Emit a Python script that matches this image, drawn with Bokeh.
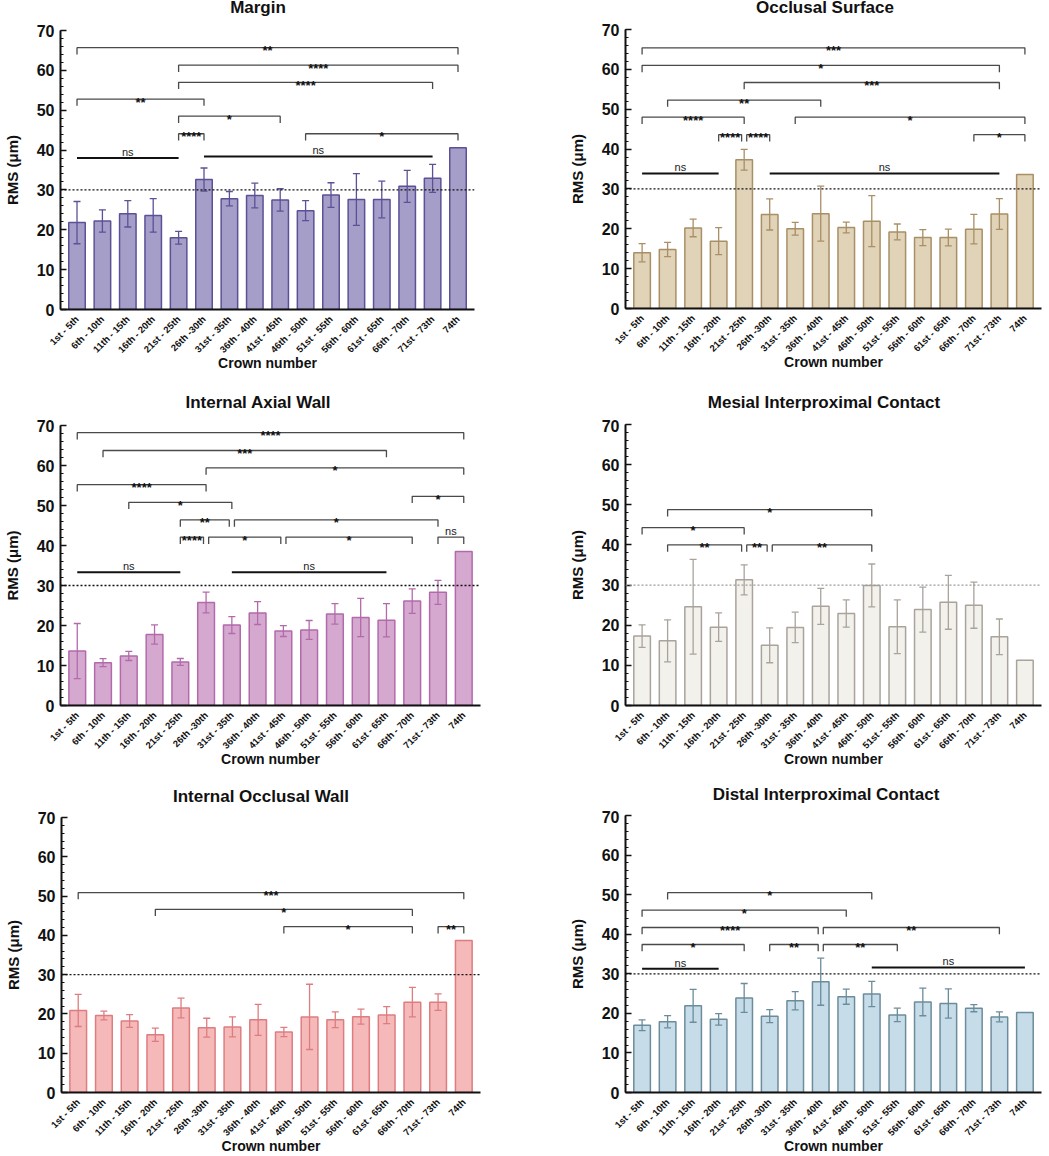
import math
from bokeh.plotting import figure
from bokeh.layouts import column, row
from bokeh.models import ColumnDataSource, Whisker, TeeHead, Span, FixedTicker, Range1d, Div
from bokeh.core.properties import value
from bokeh.embed import file_html
from bokeh.resources import INLINE

# ---------------- data ----------------
crowns = ["1st - 5th", "6th - 10th", "11th - 15th", "16th - 20th", "21st - 25th",
          "26th -30th", "31st - 35th", "36th - 40th", "41st - 45th", "46th - 50th",
          "51st - 55th", "56th - 60th", "61st - 65th", "66th - 70th", "71st - 73th", "74th"]

margin_mean = [21.8, 22.2, 24.0, 23.6, 18.0, 32.6, 27.8, 28.6, 27.5, 24.8, 28.7, 27.6, 27.6, 30.9, 32.9, 40.6]
margin_sd = [5.3, 2.8, 3.3, 4.2, 1.6, 2.9, 1.8, 3.1, 2.8, 2.5, 3.1, 6.5, 4.6, 4.0, 3.5, 0]
margin_brackets = [(0, 15, 65.7, "**"), (4, 15, 61.3, "****"), (4, 14, 57.0, "****"),
                   (0, 5, 52.8, "**"), (4, 8, 48.5, "*"), (4, 5, 44.1, "****"), (9, 15, 44.1, "*")]
margin_ns = [(0, 4, 38.0), (5, 14, 38.4)]

occlusal_mean = [14.0, 14.8, 20.2, 16.9, 37.3, 23.6, 20.0, 23.8, 20.3, 21.9, 19.2, 17.8, 17.8, 19.9, 23.7, 33.6]
occlusal_sd = [2.3, 1.8, 2.2, 3.4, 2.6, 3.9, 1.6, 6.9, 1.35, 6.4, 2.0, 2.0, 2.1, 3.7, 3.85, 0]
occlusal_brackets = [(0, 15, 65.4, "***"), (0, 14, 61.0, "*"), (4, 14, 56.7, "***"), (1, 7, 52.3, "**"),
                     (0, 4, 48.0, "****"), (6, 15, 48.0, "*"), (3, 4, 43.6, "****"), (4, 5, 43.6, "****"),
                     (13, 15, 43.6, "*")]
occlusal_ns = [(0, 3, 33.9), (5, 14, 33.9)]

axial_mean = [13.6, 10.7, 12.4, 17.75, 10.9, 25.75, 20.1, 23.1, 18.6, 18.9, 22.9, 22.0, 21.3, 26.1, 28.3, 38.5]
axial_sd = [6.9, 1.0, 1.15, 2.4, 0.85, 2.6, 2.1, 2.85, 1.35, 2.35, 2.55, 4.8, 4.15, 3.05, 3.0, 0]
axial_brackets = [(0, 15, 68.2, "****"), (1, 12, 63.75, "***"), (5, 15, 59.4, "*"), (0, 5, 55.2, "****"),
                  (13, 15, 52.3, "*"), (2, 6, 50.8, "*"), (4, 6, 46.4, "**"), (6, 14, 46.4, "*"),
                  (4, 5, 42.1, "****"), (5, 8, 42.1, "*"), (8, 13, 42.1, "*"), (14, 15, 42.1, "ns")]
axial_ns = [(0, 4, 33.3), (6, 12, 33.3)]

mesial_mean = [17.3, 16.1, 24.6, 19.5, 31.3, 15.0, 19.45, 24.7, 22.9, 29.9, 19.6, 23.9, 25.7, 25.0, 17.1, 11.3]
mesial_sd = [2.8, 5.25, 11.8, 3.55, 3.75, 4.35, 3.8, 4.5, 3.4, 5.35, 6.7, 5.6, 6.7, 5.75, 4.45, 0]
mesial_brackets = [(1, 9, 48.8, "*"), (0, 4, 44.3, "*"), (1, 4, 40.0, "**"), (4, 5, 40.0, "**"),
                   (5, 9, 40.0, "**")]
mesial_ns = []

occwall_mean = [20.9, 19.6, 18.2, 14.7, 21.5, 16.5, 16.7, 18.5, 15.4, 19.25, 18.5, 19.3, 19.7, 23.0, 23.0, 38.7]
occwall_sd = [4.1, 1.1, 1.6, 1.7, 2.5, 2.4, 2.55, 3.95, 1.2, 8.3, 2.0, 1.9, 2.15, 3.75, 2.1, 0]
occwall_brackets = [(0, 15, 50.9, "***"), (3, 13, 46.6, "*"), (8, 13, 42.2, "*"), (14, 15, 42.2, "**")]
occwall_ns = []

distal_mean = [17.0, 17.9, 21.9, 18.5, 23.9, 19.3, 23.2, 28.0, 24.2, 24.9, 19.6, 22.9, 22.5, 21.3, 19.1, 20.2]
distal_sd = [1.35, 1.55, 4.15, 1.45, 3.65, 1.65, 2.3, 5.95, 1.9, 3.2, 1.7, 3.5, 3.7, 0.9, 1.25, 0]
distal_brackets = [(1, 9, 50.5, "*"), (0, 8, 46.1, "*"), (0, 7, 41.7, "****"), (7, 14, 41.7, "**"),
                   (0, 4, 37.4, "*"), (5, 7, 37.4, "**"), (7, 10, 37.4, "**")]
distal_ns = [(0, 3, 31.25), (9, 15, 31.6)]

reference_level = 30
y_ticks = [0, 10, 20, 30, 40, 50, 60, 70]

FONT = "Liberation Sans"


def make_panel(title, means, sds, brackets, ns_lines, fill, line, ref_color,
               width, height, left, frame_w, top, frame_h, title_x, title_y, div_h):
    fig_h = height - div_h
    p = figure(width=width, height=fig_h, output_backend="svg", toolbar_location=None,
               x_range=Range1d(-0.65, 15.65), y_range=Range1d(0, 70),
               min_border_left=left, min_border_right=width - left - frame_w,
               min_border_top=top - div_h, min_border_bottom=height - top - frame_h)
    p.outline_line_color = None
    p.xgrid.visible = False
    p.ygrid.visible = False
    p.background_fill_color = "white"
    p.border_fill_color = "white"

    box_w = 300
    head = Div(text=(f'<div style="width:{box_w}px;margin-left:{title_x - box_w // 2}px;'
                     f'padding-top:{title_y - 8}px;text-align:center;white-space:nowrap;'
                     f'font-family:\'{FONT}\';font-size:17px;font-weight:bold;'
                     f'line-height:16px;color:#111111;">{title}</div>'),
               width=width, height=div_h, margin=(0, 0, 0, 0))

    xs = list(range(len(crowns)))
    src = ColumnDataSource(dict(x=xs, top=means))
    p.vbar(x="x", top="top", width=0.65, bottom=0, source=src,
           fill_color=fill, line_color=line, line_width=1.5)

    wx = [i for i in xs if sds[i] > 0]
    wsrc = ColumnDataSource(dict(x=wx,
                                 upper=[means[i] + sds[i] for i in wx],
                                 lower=[means[i] - sds[i] for i in wx]))
    w = Whisker(base="x", upper="upper", lower="lower", source=wsrc, level="annotation",
                line_color=line, line_width=1.3,
                upper_head=TeeHead(size=7, line_color=line, line_width=1.3),
                lower_head=TeeHead(size=7, line_color=line, line_width=1.3))
    p.add_layout(w)

    p.add_layout(Span(location=reference_level, dimension="width", line_color=ref_color,
                      line_dash="2 2", line_width=1.3))

    # significance brackets
    bx, by, sx, sy, st, nx, ny, nt = [], [], [], [], [], [], [], []
    drop = 1.7
    for (a, b, lvl, lab) in brackets:
        x0, x1 = float(a), float(b)
        for (c, d, l2, _) in brackets:
            if abs(l2 - lvl) < 0.5:
                if d == a and c != a:
                    x0 = a + 0.1
                if c == b and d != b:
                    x1 = b - 0.1
        bx.append([x0, x0, x1, x1])
        by.append([lvl - drop, lvl, lvl, lvl - drop])
        if lab == "ns":
            nx.append((x0 + x1) / 2); ny.append(lvl); nt.append(lab)
        else:
            sx.append((x0 + x1) / 2); sy.append(lvl); st.append(lab)
    if bx:
        p.multi_line(bx, by, line_color="#4a4a4a", line_width=1.3)
    if sx:
        p.text(sx, sy, text=st, text_align="center", text_baseline="alphabetic",
               y_offset=3, text_font=value(FONT), text_font_style="bold",
               text_font_size="13px", text_color="#111111")
    for (a, b, lvl) in ns_lines:
        p.line([a, b], [lvl, lvl], line_color="#111111", line_width=2)
        nx.append((a + b) / 2); ny.append(lvl); nt.append("ns")
    if nx:
        p.text(nx, ny, text=nt, text_align="center", text_baseline="alphabetic",
               y_offset=-6, text_font=value(FONT), text_font_size="11px",
               text_color="#222222")

    # axes
    yax = p.yaxis[0]
    yax.ticker = FixedTicker(ticks=y_ticks, minor_ticks=list(range(0, 71, 2)))
    yax.axis_line_width = 2
    yax.axis_line_color = "#111111"
    yax.major_tick_in = 6
    yax.major_tick_out = 0
    yax.minor_tick_in = 3
    yax.minor_tick_out = 0
    yax.major_tick_line_width = 1.5
    yax.minor_tick_line_width = 1.2
    yax.major_tick_line_color = "#111111"
    yax.minor_tick_line_color = "#111111"
    yax.major_label_text_font = FONT
    yax.major_label_text_font_style = "bold"
    yax.major_label_text_font_size = "16px"
    yax.major_label_text_color = "#111111"
    yax.major_label_standoff = 6
    yax.axis_label = "RMS (μm)"
    yax.axis_label_text_font = FONT
    yax.axis_label_text_font_style = "bold"
    yax.axis_label_text_font_size = "15px"
    yax.axis_label_text_color = "#111111"
    yax.axis_label_standoff = 13

    xax = p.xaxis[0]
    xax.ticker = FixedTicker(ticks=xs)
    xax.major_label_overrides = {i: c for i, c in enumerate(crowns)}
    xax.major_label_orientation = math.pi / 4
    xax.major_label_text_font = FONT
    xax.major_label_text_font_style = "bold"
    xax.major_label_text_font_size = "9.5px"
    xax.major_label_text_color = "#111111"
    xax.major_label_standoff = 2
    xax.major_tick_line_color = None
    xax.minor_tick_line_color = None
    xax.axis_line_width = 2
    xax.axis_line_color = "#111111"
    xax.axis_label = "Crown number"
    xax.axis_label_text_font = FONT
    xax.axis_label_text_font_style = "bold"
    xax.axis_label_text_font_size = "14px"
    xax.axis_label_text_color = "#111111"
    xax.axis_label_standoff = -7
    return column(head, p, spacing=0)


p1 = make_panel("Margin", margin_mean, margin_sd, margin_brackets, margin_ns,
                "#a49ec8", "#5b5196", "#111111", 520, 385, 57, 417, 30, 279, 258, 8, 20)
p2 = make_panel("Occlusal Surface", occlusal_mean, occlusal_sd, occlusal_brackets, occlusal_ns,
                "#e0d3b8", "#a88f66", "#111111", 529, 385, 105, 416, 29, 279, 305, 8, 20)
p3 = make_panel("Internal Axial Wall", axial_mean, axial_sd, axial_brackets, axial_ns,
                "#d5a9cf", "#b36aab", "#111111", 520, 385, 59, 421, 40, 280, 258, 18, 34)
p4 = make_panel("Mesial Interproximal Contact", mesial_mean, mesial_sd, mesial_brackets, mesial_ns,
                "#f3f1ec", "#a9a39c", "#9a9a9a", 529, 385, 105, 416, 39, 281, 304, 18, 34)
p5 = make_panel("Internal Occlusal Wall", occwall_mean, occwall_sd, occwall_brackets, occwall_ns,
                "#f5b9b9", "#de7d80", "#111111", 520, 386, 61, 419, 47, 280, 261, 27, 40)
p6 = make_panel("Distal Interproximal Contact", distal_mean, distal_sd, distal_brackets, distal_ns,
                "#c6dde9", "#6c8c9c", "#111111", 529, 386, 105, 416, 45, 281, 306, 25, 40)

layout = column(row(p1, p2, spacing=0), row(p3, p4, spacing=0), row(p5, p6, spacing=0), spacing=0)
open("out.html", "w").write(file_html(layout, INLINE))
